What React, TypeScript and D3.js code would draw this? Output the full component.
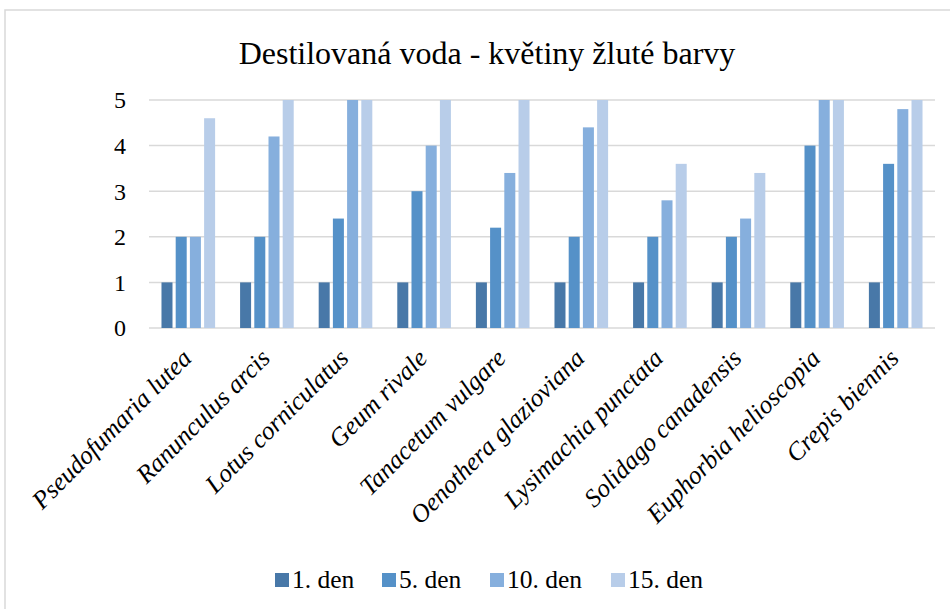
import React from "react";
import * as d3 from "d3";

const categories = [
  "Pseudofumaria lutea",
  "Ranunculus arcis",
  "Lotus corniculatus",
  "Geum rivale",
  "Tanacetum vulgare",
  "Oenothera glazioviana",
  "Lysimachia punctata",
  "Solidago canadensis",
  "Euphorbia helioscopia",
  "Crepis biennis",
];
const seriesNames = ["1. den", "5. den", "10. den", "15. den"];
const den1 = [1, 1, 1, 1, 1, 1, 1, 1, 1, 1];
const den5 = [2, 2, 2.4, 3, 2.2, 2, 2, 2, 4, 3.6];
const den10 = [2, 4.2, 5, 4, 3.4, 4.4, 2.8, 2.4, 5, 4.8];
const den15 = [4.6, 5, 5, 5, 5, 5, 3.6, 3.4, 5, 5];
const seriesValues = [den1, den5, den10, den15];
const colors = ["#4878A8", "#5591C8", "#86AFDD", "#B8CDE9"];
const yTicks = [0, 1, 2, 3, 4, 5];
const title = "Destilovaná voda - květiny žluté barvy";

const W = 950;
const H = 609;
const plotL = 149;
const plotR = 935;
const plotT = 100;
const plotB = 328;
const font = "Liberation Serif";

export default function App() {
  const x0 = d3.scaleBand<string>().domain(categories).range([plotL, plotR]).paddingInner(0.277).paddingOuter(0.1385);
  const x1 = d3.scaleBand<string>().domain(seriesNames).range([0, x0.bandwidth()]);
  const y = d3.scaleLinear().domain([0, 5]).range([plotB, plotT]);
  const barW = x1.bandwidth() - 3.2;

  const legendX = [275, 382, 490, 611];

  return (
    <div style={{ position: "absolute", left: 0, top: 0, width: W, height: H }}>
      <svg width={W} height={H} style={{ display: "block", background: "#fff" }} fontFamily={font}>
        <rect x={5} y={10} width={W + 20} height={H + 20} fill="#fff" stroke="#D9D9D9" strokeWidth={1.5} />
        <text x={487} y={64} textAnchor="middle" fontSize={32} fill="#000" fontFamily={font}>{title}</text>
        {yTicks.map((t) => (
          <g key={t}>
            <line x1={plotL} x2={plotR} y1={y(t)} y2={y(t)} stroke="#D9D9D9" strokeWidth={1.5} />
            <text x={126} y={y(t)} dy="0.35em" textAnchor="end" fontSize={24} fill="#000" fontFamily={font}>{t}</text>
          </g>
        ))}
        {categories.map((c, i) => (
          <g key={c} transform={`translate(${x0(c)},0)`}>
            {seriesNames.map((s, j) => {
              const v = seriesValues[j][i];
              return (
                <rect
                  key={s}
                  x={(x1(s) as number) + 1.6}
                  y={y(v)}
                  width={barW}
                  height={plotB - y(v)}
                  fill={colors[j]}
                />
              );
            })}
          </g>
        ))}
        {categories.map((c) => {
          const cx = (x0(c) as number) + x0.bandwidth() / 2;
          return (
            <text
              key={c}
              transform={`translate(${cx - 8},${347}) rotate(-45)`}
              textAnchor="end"
              fontSize={25.5}
              fill="#000"
              dy="0.7em"
              fontFamily={font}
              fontStyle="italic"
            >
              {c}
            </text>
          );
        })}
        {seriesNames.map((s, j) => (
          <g key={s}>
            <rect x={legendX[j]} y={573} width={14} height={14} fill={colors[j]} />
            <text x={legendX[j] + 17} y={588} fontSize={25.5} fill="#000" fontFamily={font}>{s}</text>
          </g>
        ))}
      </svg>
    </div>
  );
}
